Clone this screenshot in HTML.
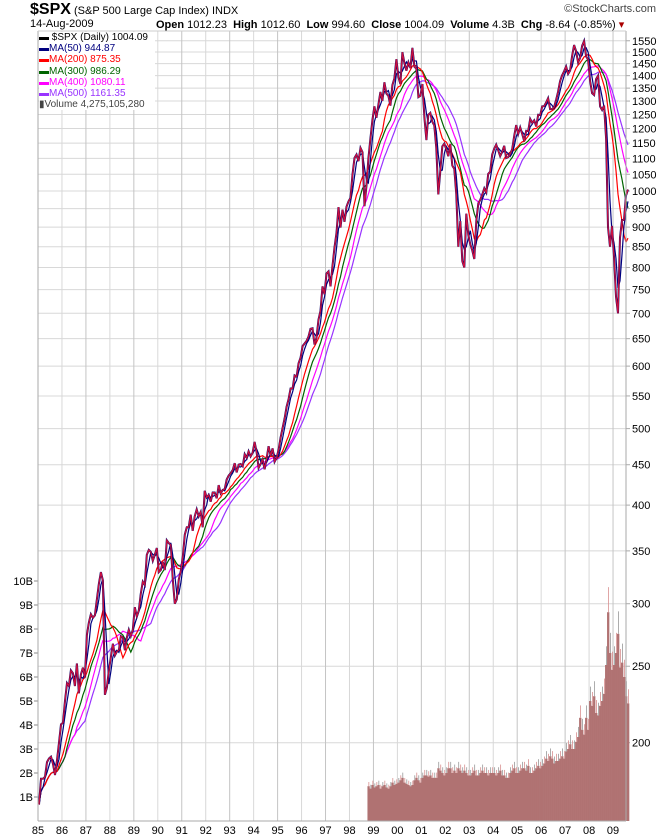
<!DOCTYPE html>
<html><head><meta charset="utf-8"><style>
body{margin:0;background:#fff;font-family:"Liberation Sans",sans-serif;}
#wrap{position:relative;width:670px;height:838px;overflow:hidden;}
svg text{font-family:"Liberation Sans",sans-serif;}
</style></head><body>
<div id="wrap">
<svg id="chart" width="670" height="838"></svg>
</div>
<script>
// ---- data (monthly approx) ----
const startYear = 1985;
const priceValues = [
167,180,180,181,189,191,192,188,182,190,200,211,
212,226,238,236,247,245,236,252,231,244,249,242,
274,284,291,288,290,304,318,329,321,230,235,247,
257,267,258,261,262,273,272,262,272,278,273,278,
297,289,294,309,320,317,346,351,349,340,346,353,
329,331,339,331,361,358,356,322,300,304,322,330,
344,367,375,375,389,371,387,395,387,392,375,417,
409,412,404,415,415,408,424,414,418,419,431,436,
439,443,452,440,450,451,448,464,459,468,461,466,
481,467,446,451,457,444,458,475,462,472,454,459,
470,487,501,515,533,545,562,562,584,582,605,615,
636,641,646,654,669,670,639,652,687,705,757,740,
786,791,757,804,848,885,954,899,947,914,955,970,
980,1049,1101,1112,1091,1134,1120,957,1017,1099,1164,1229,
1280,1238,1286,1335,1301,1373,1329,1320,1283,1362,1389,1469,
1394,1366,1499,1452,1421,1455,1431,1518,1437,1429,1315,1320,
1366,1240,1160,1249,1256,1224,1211,1134,990,1060,1139,1148,
1130,1107,1147,1077,1067,990,850,916,815,800,936,880,
856,841,820,916,964,975,990,1008,996,1051,1058,1112,
1131,1145,1126,1107,1121,1141,1101,1104,1114,1130,1174,1212,
1181,1204,1181,1157,1192,1191,1234,1220,1229,1207,1249,1248,
1280,1281,1295,1311,1270,1270,1277,1304,1336,1378,1401,1418,
1438,1407,1421,1482,1531,1503,1455,1474,1527,1549,1481,1468,
1378,1330,1323,1386,1400,1280,1267,1283,1165,900,850,903,
826,735,700,873,919,919,987,1004];
const volumeStart = 1998.75;
const volumeValues = [
1.45,1.35,1.5,
1.4,1.45,1.5,1.35,1.45,1.5,1.4,1.35,1.45,1.6,1.5,1.55,
1.6,1.7,1.8,1.6,1.55,1.5,1.45,1.5,1.7,1.8,1.7,1.6,
1.8,1.9,1.9,1.85,1.9,1.8,1.8,1.8,2.2,2.1,2.0,1.9,
2.0,2.2,2.2,2.0,2.1,2.0,2.2,2.1,2.0,2.1,2.0,1.9,
1.9,2.0,2.1,1.9,1.9,2.0,2.1,2.0,2.0,1.9,2.0,2.0,
2.0,1.9,2.0,2.1,1.9,1.9,1.8,1.8,2.0,2.1,2.2,2.0,
2.0,2.1,2.2,2.2,2.1,2.3,2.0,2.0,2.1,2.2,2.3,2.2,
2.3,2.4,2.6,2.5,2.7,2.6,2.4,2.5,2.5,2.6,2.7,2.6,
2.9,3.0,3.2,3.0,3.0,3.3,3.5,4.3,3.8,3.6,4.3,3.8,
5.0,4.8,5.2,4.5,4.4,4.8,5.0,5.3,6.5,8.7,7.0,6.3,
6.5,7.0,7.8,6.4,6.6,6.0,5.2,4.9];
const priceTicks = [200,250,300,350,400,450,500,550,600,650,700,750,800,850,900,950,1000,1050,1100,1150,1200,1250,1300,1350,1400,1450,1500,1550];
const volumeTicks = [1,2,3,4,5,6,7,8,9,10];
const yearLabels = ["85","86","87","88","89","90","91","92","93","94","95","96","97","98","99","00","01","02","03","04","05","06","07","08","09"];
const maPeriods = [2.5,10,14,19,24]; // in months (50,200,300,400,500 days)
const maColors = ["#00007f","#ff0000","#006400","#ff00ff","#9933ff"];

// ---- axes ----
const L=38,R=626,T=31,B=821;
const xYear = y => L + (y-1985)*23.96;
const yPrice = v => 191 - 342.8*Math.log(v/1000);
const yVol = b => B - 24*b;

const svg=document.getElementById('chart');
const NS='http://www.w3.org/2000/svg';
function mk(tag,attrs,parent){const e=document.createElementNS(NS,tag);for(const k in attrs)e.setAttribute(k,attrs[k]);(parent||svg).appendChild(e);return e;}

// grid
const grid=mk('g',{});


priceTicks.forEach(v=>{
  const y=yPrice(v);
  const ln=mk('line',{x1:L,x2:R,y1:y,y2:y,stroke:'#d8d8d8','stroke-width':1},grid);
  
  
  mk('line',{x1:R,x2:R+4,y1:y,y2:y,stroke:'#aaa'},grid);
  const t=mk('text',{x:R+6,y:y+4,'font-size':11,fill:'#000'});
  t.textContent=v;
  
  
});
yearLabels.forEach((lab,i)=>{
  const x=xYear(1985+i);
  const ln=mk('line',{x1:x,x2:x,y1:T,y2:B,stroke:i%2?'#d8d8d8':'#c4c4c4','stroke-width':1},grid);
  
  
  const t=mk('text',{x:x,y:B+13,'font-size':11,'text-anchor':'middle'});
  t.textContent=lab;
  
  
});
volumeTicks.forEach(b=>{
  const y=yVol(b);
  mk('line',{x1:34,x2:L,y1:y,y2:y,stroke:'#888'});
  const t=mk('text',{x:33,y:y+4,'font-size':11,'text-anchor':'end'});
  t.textContent=b+'B';
  
  
});

// volume bars
const vg=mk('g',{});


const mw=23.96/12;
volumeValues.forEach((v,i)=>{
  const x=xYear(volumeStart+i/12);
  const r=mk('rect',{x:x,y:yVol(v),width:mw+0.3,height:B-yVol(v),fill:'#b07272'},vg);
  
  
  mk('rect',{x:x+mw*0.5,y:yVol(v*1.12),width:0.8,height:yVol(v)-yVol(v*1.12),fill:i%2?'#999':'#d89090'},vg);
});

// moving averages
function ma(p){
  const out=[];
  for(let i=0;i<priceValues.length;i++){
    const n=Math.max(1,Math.round(p));
    const s=Math.max(0,i-n+1);let sum=0;
    for(let j=s;j<=i;j++)sum+=priceValues[j];
    out.push(sum/(i-s+1));
  }
  return out;
}
const maNames=['ma-50-line','ma-200-line','ma-300-line','ma-400-line','ma-500-line'];
for(let k=maPeriods.length-1;k>=0;k--){
  const vals=ma(maPeriods[k]);
  const d=vals.map((v,i)=>(i?'L':'M')+xYear(startYear+(i+0.5)/12).toFixed(1)+' '+yPrice(v).toFixed(1)).join(' ');
  const p=mk('path',{d:d,fill:'none',stroke:maColors[k],'stroke-width':1.2});
  
  
}
// price line
const pd=priceValues.map((v,i)=>(i?'L':'M')+xYear(startYear+(i+0.5)/12).toFixed(1)+' '+yPrice(v).toFixed(1)).join(' ');
mk('path',{d:pd,fill:'none',stroke:'#000066','stroke-width':2});
const pl=mk('path',{d:pd,fill:'none',stroke:'#cc1040','stroke-width':1.3});



// frame
mk('line',{x1:R,x2:R,y1:T,y2:B,stroke:'#aaa'});
mk('line',{x1:L,x2:R,y1:B,y2:B,stroke:'#aaa'});
mk('line',{x1:L,x2:L,y1:T,y2:B,stroke:'#aaa'});
mk('line',{x1:L,x2:R,y1:T,y2:T,stroke:'#ccc'});
</script>
<div style="position:absolute;left:0;top:0;width:670px;height:30px;font-size:11px;">
  <div style="position:absolute;left:30px;top:1px;white-space:nowrap;"><b style="font-size:16px;">$SPX</b> <span style="font-size:11px">(S&amp;P 500 Large Cap Index) INDX</span></div>
  <div style="position:absolute;right:14px;top:3px;color:#444;">©StockCharts.com</div>
  <div style="position:absolute;left:30px;top:18px;">14-Aug-2009</div>
  <div style="position:absolute;left:156px;top:18px;white-space:nowrap;"><b>Open</b> 1012.23 &nbsp;<b>High</b> 1012.60 &nbsp;<b>Low</b> 994.60 &nbsp;<b>Close</b> 1004.09 &nbsp;<b>Volume</b> 4.3B &nbsp;<b>Chg</b> -8.64 (-0.85%) <span style="color:#a00">▾</span></div>
</div>
<div style="position:absolute;left:39px;top:32px;width:116px;background:#fff;font-size:10px;line-height:11.2px;white-space:nowrap;">
  <div style="color:#000;">▬ $SPX (Daily) 1004.09</div>
  <div style="color:#00007f">▬MA(50) 944.87</div>
  <div style="color:#f00">▬MA(200) 875.35</div>
  <div style="color:#006400">▬MA(300) 986.29</div>
  <div style="color:#f0f">▬MA(400) 1080.11</div>
  <div style="color:#93f">▬MA(500) 1161.35</div>
  <div style="color:#444">▮Volume 4,275,105,280</div>
</div>
</body></html>
